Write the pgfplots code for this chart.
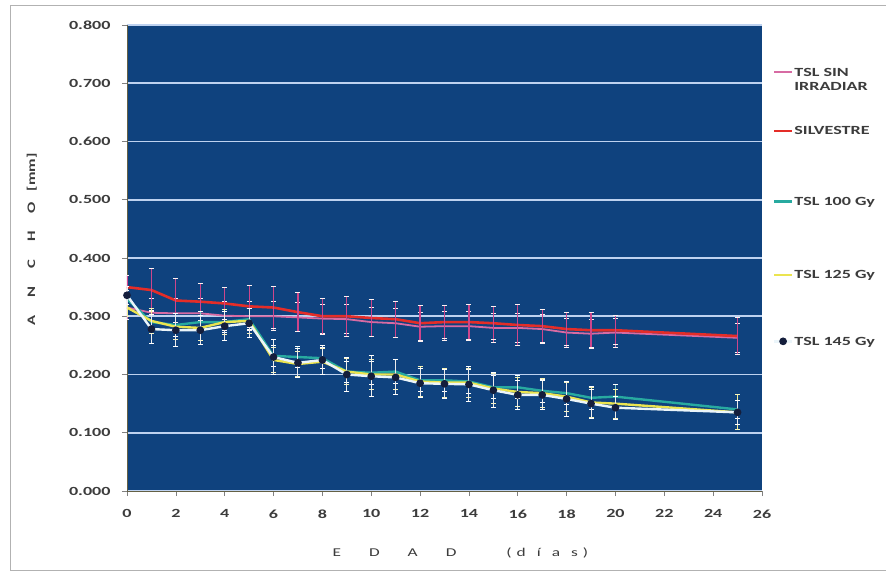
\documentclass[border=0pt]{standalone}
\usepackage{pgfplots}
\usepackage{pgfplotstable}
\pgfplotsset{compat=1.18}
\usepackage{fontspec}
\setmainfont{Carlito}[FakeStretch=1.45]
\definecolor{plotbg}{RGB}{15,66,126}
\definecolor{gridc}{RGB}{190,210,240}
\definecolor{silc}{RGB}{228,45,40}
\definecolor{sinc}{RGB}{205,70,140}
\definecolor{tealc}{RGB}{40,170,160}
\definecolor{yelc}{RGB}{235,228,80}
\definecolor{whc}{RGB}{235,245,250}
\definecolor{markc}{RGB}{20,30,60}
\definecolor{txt}{RGB}{60,60,60}

\pgfplotstableread{
day  sil    silE   sin    sinE   ga     gaE    gb     gbE    gc     gcE
0    0.350  0.020  0.315  0.020  0.330  0.015  0.315  0.015  0.336  0.015
1    0.345  0.037  0.306  0.025  0.290  0.020  0.292  0.022  0.278  0.025
2    0.327  0.037  0.305  0.025  0.285  0.020  0.282  0.022  0.276  0.028
3    0.325  0.032  0.305  0.025  0.290  0.018  0.280  0.022  0.276  0.025
4    0.322  0.028  0.301  0.025  0.290  0.018  0.290  0.022  0.283  0.025
5    0.317  0.036  0.300  0.025  0.295  0.018  0.292  0.022  0.288  0.025
6    0.315  0.036  0.300  0.025  0.232  0.018  0.225  0.022  0.230  0.030
7    0.307  0.034  0.298  0.025  0.230  0.018  0.218  0.022  0.220  0.025
8    0.300  0.031  0.296  0.025  0.228  0.018  0.222  0.022  0.225  0.025
9    0.300  0.034  0.295  0.025  0.205  0.018  0.205  0.022  0.200  0.030
10   0.297  0.031  0.290  0.025  0.203  0.020  0.200  0.025  0.197  0.035
11   0.295  0.031  0.288  0.025  0.205  0.020  0.200  0.025  0.195  0.030
12   0.288  0.030  0.282  0.025  0.190  0.020  0.188  0.025  0.185  0.025
13   0.290  0.028  0.283  0.025  0.190  0.020  0.186  0.025  0.184  0.025
14   0.290  0.030  0.283  0.025  0.188  0.020  0.186  0.025  0.183  0.030
15   0.288  0.028  0.280  0.025  0.178  0.020  0.176  0.025  0.173  0.030
16   0.285  0.035  0.280  0.025  0.178  0.020  0.170  0.025  0.165  0.025
17   0.283  0.028  0.278  0.025  0.172  0.020  0.168  0.025  0.165  0.025
18   0.278  0.028  0.272  0.025  0.168  0.020  0.162  0.025  0.158  0.030
19   0.276  0.030  0.270  0.025  0.160  0.020  0.152  0.025  0.150  0.025
20   0.276  0.025  0.272  0.025  0.162  0.020  0.150  0.025  0.143  0.020
25   0.266  0.032  0.263  0.025  0.140  0.015  0.135  0.030  0.135  0.020
}\data

\begin{document}
\begin{tikzpicture}
\path[use as bounding box, fill=white] (-127bp,-82bp) rectangle (759bp,491bp);
\draw[gray!60, line width=0.8pt] (759bp,486bp) -- (-117bp,486bp) -- (-117bp,-79bp) -- (759bp,-79bp);
\begin{axis}[
  at={(0,0)}, anchor=south west,
  scale only axis, width=635bp, height=466bp,
  xmin=0, xmax=26, ymin=0, ymax=0.8,
  xtick={0,2,4,6,8,10,12,14,16,18,20,22,24,26},
  ytick={0,0.1,0.2,0.3,0.4,0.5,0.6,0.7,0.8},
  axis background/.style={fill=plotbg},
  ymajorgrids, major grid style={color=gridc, line width=1.6pt},
  axis x line*=bottom, axis y line*=left,
  axis line style={color=black!70!yellow, line width=0.6pt},
  tick align=outside, major tick length=5bp,
  tick style={color=gray, line width=0.6pt},
  /pgf/number format/assume math mode=true,
  yticklabel style={/pgf/number format/fixed, /pgf/number format/fixed zerofill, /pgf/number format/precision=3, xshift=-8bp},
  xticklabel style={yshift=-10bp},
  tick label style={font=\bfseries\fontsize{12.5}{14}\selectfont, text=txt},
  ylabel={A\hspace{18bp}N\hspace{18bp}C\hspace{18bp}H\hspace{18bp}O\hspace{11bp}[mm]},
  ylabel style={at={(axis description cs:-0.15,0.54)}, anchor=center, rotate=0, font=\bfseries\fontsize{11.5}{13}\selectfont, text=txt},
  xlabel={E\hspace{28bp}D\hspace{28bp}A\hspace{28bp}D\hspace{50bp}(\hspace{5bp}d\hspace{11bp}í\hspace{11bp}a\hspace{11bp}s\hspace{5bp})},
  xlabel style={at={(axis description cs:0.525,-0.133)}, anchor=center, font=\fontsize{12}{14}\selectfont, text=txt},
  legend style={at={(1.012,0.905)}, anchor=north west, draw=none, fill=none,
    row sep=0pt, font=\bfseries\fontsize{12.5}{14.5}\selectfont, text=txt,
    cells={anchor=base west}, nodes={inner sep=1bp}},
  legend image code/.code={\draw[mark repeat=2, mark phase=2, #1] plot coordinates {(0bp,4bp) (9bp,4bp) (18bp,4bp)};},
  error bars/y dir=both, error bars/y explicit,
]
\addplot[sinc!80!white, line width=1.8pt, mark=none,
  error bars/error bar style={color=sinc!70!white, line width=1.2pt},
  error bars/error mark options={rotate=90, mark size=2.5bp, color=white!80!pink, line width=1pt}]
  table[x=day, y=sin, y error=sinE] {\data};
\addlegendentry{\smash{\begin{tabular}[t]{@{}l@{}}TSL SIN\\IRRADIAR\end{tabular}}}
\addplot[silc, line width=2.6pt, mark=none,
  error bars/error bar style={color=sinc, line width=1.2pt},
  error bars/error mark options={rotate=90, mark size=2.5bp, color=white!80!pink, line width=1pt}]
  table[x=day, y=sil, y error=silE] {\data};
\addlegendentry{SILVESTRE\rule{0pt}{55bp}}
\addplot[tealc, line width=2.4pt, mark=none,
  error bars/error bar style={color=tealc!60!white, line width=1pt},
  error bars/error mark options={rotate=90, mark size=2.5bp, color=white, line width=1pt}]
  table[x=day, y=ga, y error=gaE] {\data};
\addlegendentry{TSL 100 Gy\rule{0pt}{67bp}}
\addplot[yelc, line width=2.4pt, mark=none,
  error bars/error bar style={color=yelc!60!white, line width=1pt},
  error bars/error mark options={rotate=90, mark size=2.5bp, color=yelc!40!white, line width=1pt}]
  table[x=day, y=gb, y error=gbE] {\data};
\addlegendentry{TSL 125 Gy\rule{0pt}{70bp}}
\addplot[whc, line width=2.4pt, mark=*, mark size=2.6bp,
  mark options={fill=markc, draw=markc},
  error bars/error bar style={color=white!85!gray, line width=1pt},
  error bars/error mark options={rotate=90, mark size=2.5bp, color=white, line width=1pt}]
  table[x=day, y=gc, y error=gcE] {\data};
\addlegendentry{TSL 145 Gy\rule{0pt}{63bp}}
\end{axis}
\end{tikzpicture}
\end{document}
